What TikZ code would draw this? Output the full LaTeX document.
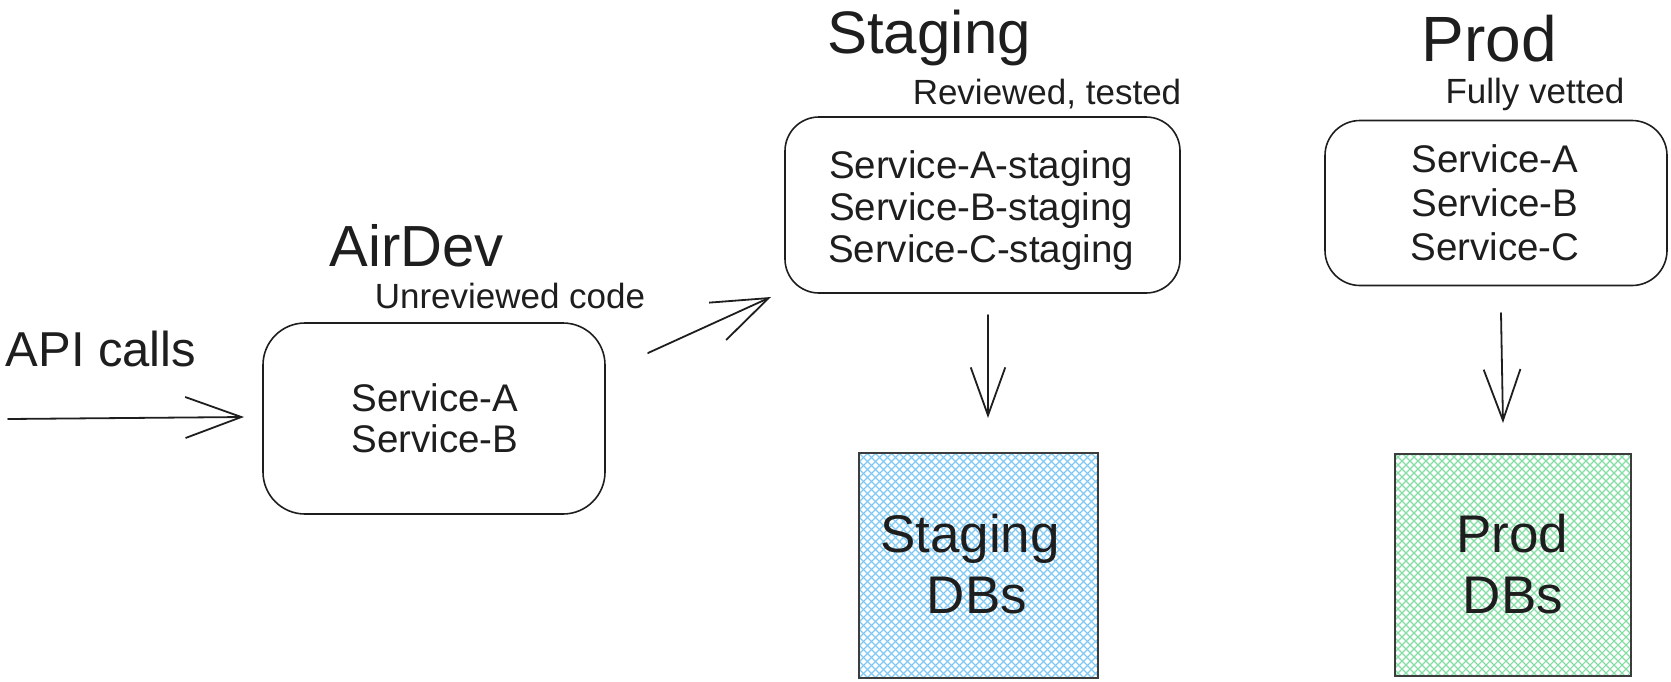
\documentclass[tikz,border=0pt]{standalone}
\usepackage{fontspec}
\setmainfont{Liberation Sans}
\usetikzlibrary{arrows.meta}

\definecolor{ink}{HTML}{1E1E1E}
\definecolor{stghatch}{HTML}{7FC9F4}
\definecolor{prdhatch}{HTML}{84DDA4}
\definecolor{dbedge}{HTML}{3C3C3C}

\newcommand{\fs}[1]{\fontsize{#1}{#1}\selectfont}

\tikzset{
  envbox/.style={draw=ink, line width=1.6pt, inner sep=0pt},
  dbbox/.style={draw=dbedge, line width=2.2pt},
  txt/.style={inner sep=0pt, anchor=base, text=ink},
  flow/.style={draw=ink, line width=1.8pt, line cap=round,
    -{Straight Barb[length=56pt, width=41pt, line width=1.8pt]}},
  drop/.style={draw=ink, line width=1.8pt, line cap=round,
    -{Straight Barb[length=#1pt, width=0.72*#1pt, line width=1.8pt]}},
}

% crosshatch fill of a rectangle given by its corners (x1,y1) (x2,y2)
\newcommand{\crosshatch}[5]{%
  \begin{scope}
    \clip (#1,#2) rectangle (#3,#4);
    \pgfmathsetmacro{\hh}{#4-#2}
    \foreach \s in {-240,-232,...,250} {
      \draw[#5, line width=1.1pt] (#1+\s,#2) -- ++(\hh,\hh);
      \draw[#5, line width=1.1pt] (#1+\s,#4) -- ++(\hh,-\hh);
    }
  \end{scope}}

\begin{document}
\begin{tikzpicture}[x=1pt, y=-1pt]
  \useasboundingbox (0,0) rectangle (1671,681);

  % environments
  \node[envbox, rounded corners=42pt, minimum width=342pt, minimum height=191pt] (airdev) at (434,418.5) {};
  \node[envbox, rounded corners=34pt, minimum width=395pt, minimum height=176pt] (staging) at (982.5,205) {};
  \node[envbox, rounded corners=35pt, minimum width=342pt, minimum height=165pt] (prod) at (1496,203) {};

  % titles and notes
  \node[txt] (api) at (101,366) {\fs{49}API calls};
  \node[txt] (airdevT) at (417,266) {\fs{58}AirDev};
  \node[txt] (airdevN) at (510,308) {\fs{35}Unreviewed code};
  \node[txt] (stagingT) at (929,53) {\fs{60}Staging};
  \node[txt] (stagingN) at (1047,104) {\fs{35}Reviewed, tested};
  \node[txt] (prodT) at (1489,61) {\fs{64}Prod};
  \node[txt] (prodN) at (1535,103) {\fs{35}Fully vetted};

  % services
  \node[txt] (devA) at (435,411) {\fs{38.5}Service-A};
  \node[txt] (devB) at (435,452) {\fs{38.5}Service-B};
  \node[txt] (stgA) at (981,178) {\fs{38.5}Service-A-staging};
  \node[txt] (stgB) at (981,220) {\fs{38.5}Service-B-staging};
  \node[txt] (stgC) at (981,262) {\fs{38.5}Service-C-staging};
  \node[txt] (prdA) at (1495,172) {\fs{38.5}Service-A};
  \node[txt] (prdB) at (1495,216) {\fs{38.5}Service-B};
  \node[txt] (prdC) at (1495,260) {\fs{38.5}Service-C};

  % databases
  \crosshatch{859}{453}{1098}{678}{stghatch}
  \crosshatch{1395}{454}{1631}{676}{prdhatch}
  \node[dbbox, minimum width=239pt, minimum height=225pt] (stgdb) at (978.5,565.5) {};
  \node[dbbox, minimum width=236pt, minimum height=222pt] (prddb) at (1513,565) {};
  \node[txt] (stgdbT1) at (970,552) {\fs{53}Staging};
  \node[txt] (stgdbT2) at (977,613) {\fs{53}DBs};
  \node[txt] (prddbT1) at (1512,552) {\fs{53}Prod};
  \node[txt] (prddbT2) at (1513,613) {\fs{53}DBs};

  % connectors
  \coordinate (apiS) at (8,419);
  \coordinate (apiE) at (244,417);
  \coordinate (devS) at (648,353);
  \coordinate (devE) at (771,297);
  \coordinate (stgS) at (988,315);
  \coordinate (stgE) at (988,418);
  \coordinate (prdS) at (1501,313);
  \coordinate (prdE) at (1503,423);
  \draw[flow] (apiS) -- (apiE);
  \draw[flow] (devS) -- (devE);
  \draw[drop=48] (stgS) -- (stgE);
  \draw[drop=51] (prdS) -- (prdE);
\end{tikzpicture}
\end{document}
